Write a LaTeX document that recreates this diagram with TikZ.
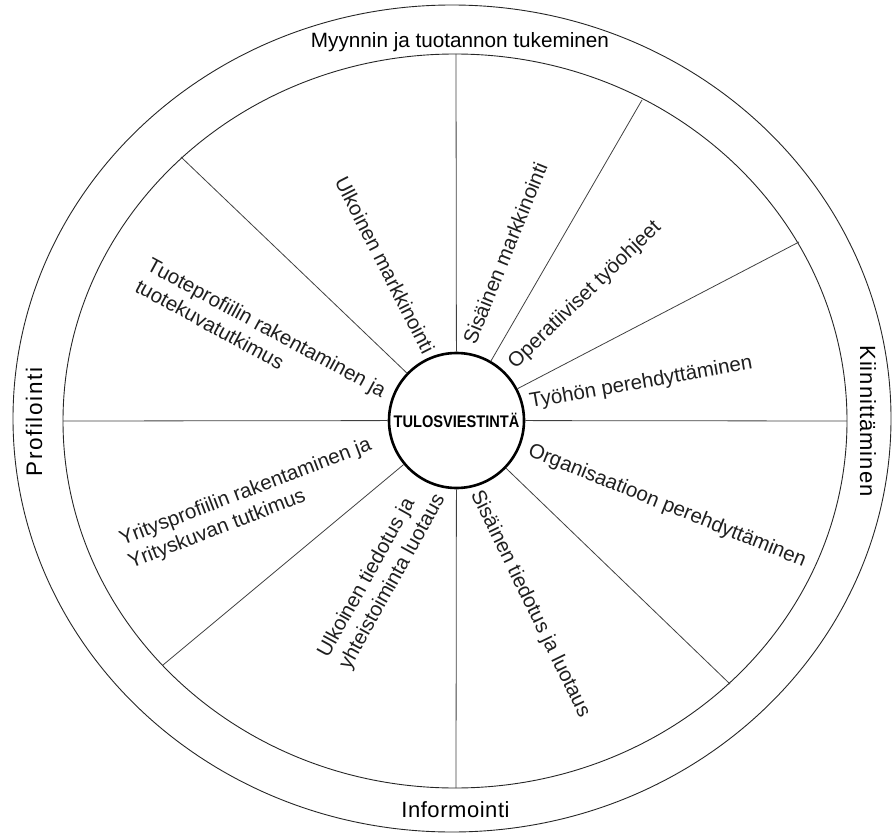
\documentclass[tikz,border=0pt]{standalone}
\usepackage{fontspec}
\setmainfont{Liberation Sans}
\begin{document}
\begin{tikzpicture}[x=1pt,y=-1pt,
  ring/.style={draw=black!85, line width=0.9pt},
  spoke/.style={draw=black!75, line width=0.8pt},
  lbl/.style={font=\fontsize{20.5}{24.5}\selectfont, text=black!88, inner sep=0pt, align=left},
  band/.style={font=\fontsize{21}{25}\selectfont, inner sep=0pt}]
\useasboundingbox (0,0) rectangle (893,834);
\draw[ring] (452,418.5) ellipse [x radius=439pt, y radius=413.5pt];
\draw[ring] (455,421) ellipse [x radius=392pt, y radius=367pt];
\node[circle, draw, line width=2.6pt, minimum size=135pt, inner sep=0pt, fill=white] (c) at (456.5,420.5)
  {\scalebox{1}[1.15]{\fontsize{14.6}{15}\selectfont\bfseries TULOSVIESTINTÄ}};
\coordinate (s1) at (456,54);
\coordinate (s2) at (642,100);
\coordinate (s3) at (799,242);
\coordinate (s4) at (847,421);
\coordinate (s5) at (730,684);
\coordinate (s6) at (456,788);
\coordinate (s7) at (163,665);
\coordinate (s8) at (63,421);
\coordinate (s9) at (181,157);
\foreach \i in {1,...,9} \draw[spoke] (c) -- (s\i);
% band labels
\node[band, anchor=base, font=\fontsize{20.7}{25}\selectfont] (top) at (460,48) {Myynnin ja tuotannon tukeminen};
\node[band, anchor=base, font=\fontsize{22}{25}\selectfont\addfontfeatures{LetterSpace=2.5}] (bot) at (455.5,817) {Informointi};
\node[band, anchor=base, rotate=90, font=\fontsize{22.5}{25}\selectfont\addfontfeatures{LetterSpace=7}] (lft) at (42,422) {Profilointi};
\node[band, anchor=base, rotate=-90, font=\fontsize{22}{25}\selectfont\addfontfeatures{LetterSpace=4.5}] (rgt) at (860,421) {Kiinnittäminen};
% sector labels
\node[lbl, rotate=-63] (l1) at (385,265) {Ulkoinen markkinointi};
\node[lbl, rotate=68] (l2) at (505,253) {Sisäinen markkinointi};
\node[lbl, rotate=44] (l3) at (585,295) {Operatiiviset työohjeet};
\node[lbl, rotate=10] (l4) at (641,383) {Työhön perehdyttäminen};
\node[lbl, rotate=-22] (l5) at (667,506) {Organisaatioon perehdyttäminen};
\node[lbl, rotate=-64] (l6) at (530,604) {Sisäinen tiedotus ja luotaus};
\node[lbl, rotate=61] (l7) at (382,576) {Ulkoinen tiedotus ja\\yhteistoiminta luotaus};
\node[lbl, rotate=21] (l8) at (250,504) {Yritysprofiilin rakentaminen ja\\Yrityskuvan tutkimus};
\node[lbl, rotate=-28.5] (l9) at (261,338) {Tuoteprofiilin rakentaminen ja\\tuotekuvatutkimus};
\end{tikzpicture}
\end{document}
